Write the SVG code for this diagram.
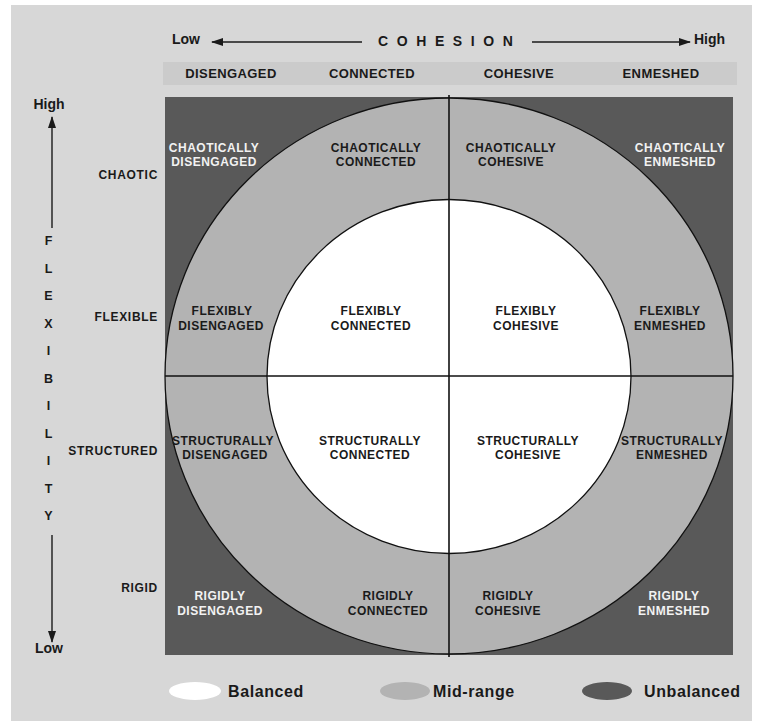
<svg xmlns="http://www.w3.org/2000/svg" width="762" height="725" viewBox="0 0 762 725">
<defs>
<marker id="ah" viewBox="0 0 12 8" refX="11" refY="4" markerWidth="12" markerHeight="8" markerUnits="userSpaceOnUse" orient="auto">
<path d="M0,0 L12,4 L0,8 Z" fill="#1a1a1a"/>
</marker>
<style>
.ax{font-family:"Liberation Sans",Arial,sans-serif;font-weight:bold;font-size:14px;fill:#1a1a1a}
.hd{font-family:"Liberation Sans",Arial,sans-serif;font-weight:bold;font-size:13px;fill:#1a1a1a;text-anchor:middle;letter-spacing:0.4px}
.rl{font-family:"Liberation Sans",Arial,sans-serif;font-weight:bold;font-size:12px;fill:#1a1a1a;text-anchor:end;letter-spacing:0.7px}
.vl{font-family:"Liberation Sans",Arial,sans-serif;font-weight:bold;font-size:12.5px;fill:#1a1a1a;text-anchor:middle}
.c{font-family:"Liberation Sans",Arial,sans-serif;font-weight:bold;font-size:12px;fill:#1a1a1a;text-anchor:middle;letter-spacing:0.5px}
.w{fill:#f2f2f2}
.lg{font-family:"Liberation Sans",Arial,sans-serif;font-weight:bold;font-size:16px;fill:#1a1a1a;letter-spacing:0.6px}
.ln{stroke:#1a1a1a;stroke-width:1.4;fill:none}
</style>
</defs>
<rect x="11" y="5" width="741" height="716" fill="#d7d7d7"/>
<rect x="163" y="62" width="574" height="23" fill="#cbcbcb"/>

<g id="grid">
<rect x="165" y="97" width="568" height="558" fill="#595959"/>
<ellipse cx="449" cy="376" rx="284" ry="278" fill="#b3b3b3" stroke="#111" stroke-width="1.3"/>
<ellipse cx="449" cy="376.5" rx="182" ry="177" fill="#ffffff" stroke="#111" stroke-width="1.3"/>
<line x1="449" y1="95" x2="449" y2="657" stroke="#111" stroke-width="1.6"/>
<line x1="165" y1="376" x2="733" y2="376" stroke="#111" stroke-width="1.6"/>
</g>

<g id="connectors">
<line class="ln" x1="362" y1="42" x2="212" y2="42" marker-end="url(#ah)"/>
<line class="ln" x1="532" y1="42" x2="690" y2="42" marker-end="url(#ah)"/>
<line class="ln" x1="52" y1="228" x2="52" y2="117" marker-end="url(#ah)"/>
<line class="ln" x1="52" y1="535" x2="52" y2="642" marker-end="url(#ah)"/>
</g>

<g id="cohesion-axis">
<text class="ax" x="172" y="44">Low</text>
<text class="ax" x="378" y="46" style="letter-spacing:8.6px">COHESION</text>
<text class="ax" x="694" y="44">High</text>
</g>

<g id="cohesion-levels">
<text class="hd" x="231" y="78">DISENGAGED</text>
<text class="hd" x="372" y="78">CONNECTED</text>
<text class="hd" x="519" y="78">COHESIVE</text>
<text class="hd" x="661" y="78">ENMESHED</text>
</g>

<g id="flexibility-axis">
<text class="ax" x="49" y="109" text-anchor="middle">High</text>
<text class="vl" x="48.5" y="245">F</text>
<text class="vl" x="48.5" y="272.5">L</text>
<text class="vl" x="48.5" y="300">E</text>
<text class="vl" x="48.5" y="327.5">X</text>
<text class="vl" x="48.5" y="355">I</text>
<text class="vl" x="48.5" y="382.5">B</text>
<text class="vl" x="48.5" y="410">I</text>
<text class="vl" x="48.5" y="437.5">L</text>
<text class="vl" x="48.5" y="465">I</text>
<text class="vl" x="48.5" y="492.5">T</text>
<text class="vl" x="48.5" y="520">Y</text>
<text class="ax" x="49" y="653" text-anchor="middle">Low</text>
</g>

<g id="flexibility-levels">
<text class="rl" x="158" y="179">CHAOTIC</text>
<text class="rl" x="158" y="321">FLEXIBLE</text>
<text class="rl" x="158" y="455">STRUCTURED</text>
<text class="rl" x="158" y="592">RIGID</text>
</g>

<g id="chaotically-disengaged"><text class="c w" x="214" y="152">CHAOTICALLY</text><text class="c w" x="214" y="166">DISENGAGED</text></g>
<g id="chaotically-connected"><text class="c" x="376" y="152">CHAOTICALLY</text><text class="c" x="376" y="166">CONNECTED</text></g>
<g id="chaotically-cohesive"><text class="c" x="511" y="152">CHAOTICALLY</text><text class="c" x="511" y="166">COHESIVE</text></g>
<g id="chaotically-enmeshed"><text class="c w" x="680" y="152">CHAOTICALLY</text><text class="c w" x="680" y="166">ENMESHED</text></g>

<g id="flexibly-disengaged"><text class="c" x="222" y="315">FLEXIBLY</text><text class="c" x="221" y="330">DISENGAGED</text></g>
<g id="flexibly-connected"><text class="c" x="371" y="315">FLEXIBLY</text><text class="c" x="371" y="330">CONNECTED</text></g>
<g id="flexibly-cohesive"><text class="c" x="526" y="315">FLEXIBLY</text><text class="c" x="526" y="330">COHESIVE</text></g>
<g id="flexibly-enmeshed"><text class="c" x="670" y="315">FLEXIBLY</text><text class="c" x="670" y="330">ENMESHED</text></g>

<g id="structurally-disengaged"><text class="c" x="223" y="445">STRUCTURALLY</text><text class="c" x="225" y="459">DISENGAGED</text></g>
<g id="structurally-connected"><text class="c" x="370" y="445">STRUCTURALLY</text><text class="c" x="370" y="459">CONNECTED</text></g>
<g id="structurally-cohesive"><text class="c" x="528" y="445">STRUCTURALLY</text><text class="c" x="528" y="459">COHESIVE</text></g>
<g id="structurally-enmeshed"><text class="c" x="672" y="445">STRUCTURALLY</text><text class="c" x="672" y="459">ENMESHED</text></g>

<g id="rigidly-disengaged"><text class="c w" x="220" y="600">RIGIDLY</text><text class="c w" x="220" y="615">DISENGAGED</text></g>
<g id="rigidly-connected"><text class="c" x="388" y="600">RIGIDLY</text><text class="c" x="388" y="615">CONNECTED</text></g>
<g id="rigidly-cohesive"><text class="c" x="508" y="600">RIGIDLY</text><text class="c" x="508" y="615">COHESIVE</text></g>
<g id="rigidly-enmeshed"><text class="c w" x="674" y="600">RIGIDLY</text><text class="c w" x="674" y="615">ENMESHED</text></g>

<g id="legend-balanced"><ellipse cx="195" cy="691" rx="26" ry="9" fill="#ffffff"/><text class="lg" x="228" y="697">Balanced</text></g>
<g id="legend-midrange"><ellipse cx="405" cy="691" rx="25" ry="9" fill="#b3b3b3"/><text class="lg" x="433" y="697">Mid-range</text></g>
<g id="legend-unbalanced"><ellipse cx="607" cy="691" rx="25" ry="9" fill="#595959"/><text class="lg" x="644" y="697">Unbalanced</text></g>
</svg>
